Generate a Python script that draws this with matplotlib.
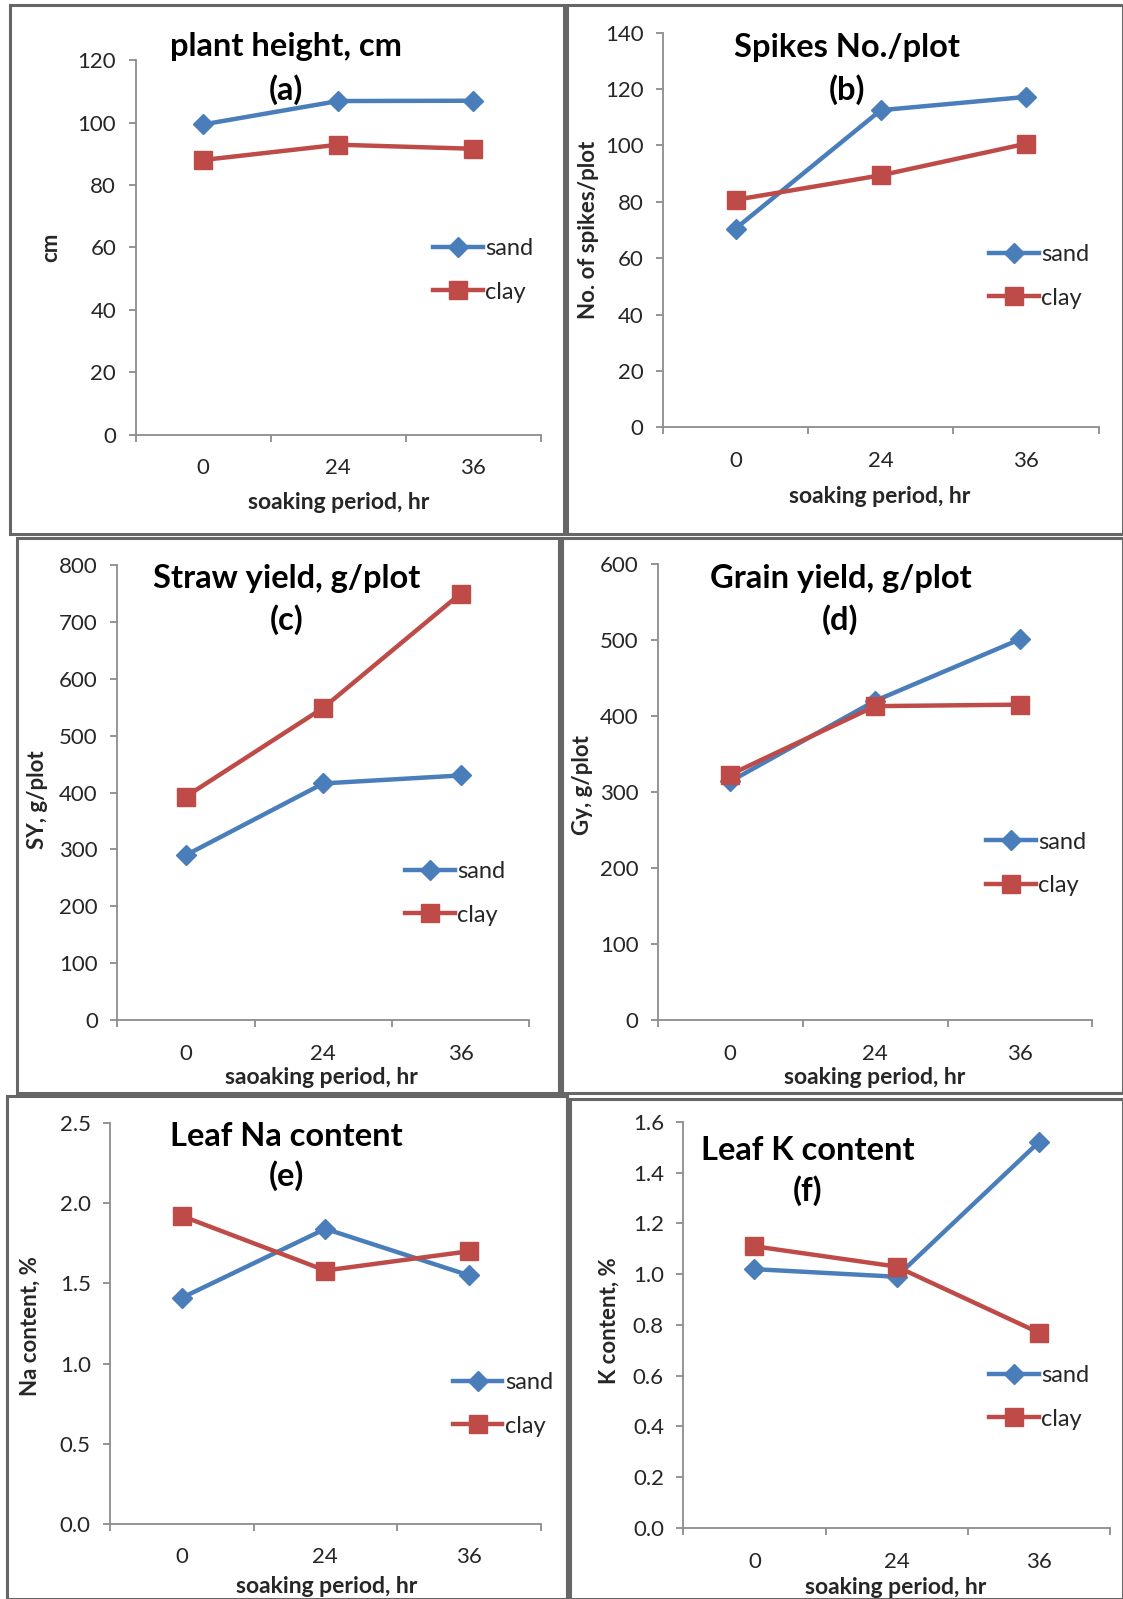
import matplotlib
matplotlib.use("Agg")
import matplotlib.pyplot as plt
from matplotlib.patches import Rectangle

plt.rcParams['font.family'] = ['Lato', 'DejaVu Sans']

W, H = 1123, 1599
S = W / 1101  # layout numbers below were measured on a 1101 px wide view

BLUE = '#4A7EBB'
RED = '#BE4B48'
TXT = '#262626'
AXC = '#8C8C8C'

periods = ['0', '24', '36']

height_sand = [99.4, 106.9, 107.0]
height_clay = [88.0, 92.9, 91.6]
spikes_sand = [70.5, 112.5, 117.2]
spikes_clay = [80.7, 89.4, 100.6]
straw_sand = [290, 416, 430]
straw_clay = [393, 549, 750]
grain_sand = [314, 420, 501]
grain_clay = [323, 413, 415]
na_sand = [1.41, 1.84, 1.55]
na_clay = [1.92, 1.58, 1.70]
k_sand = [1.02, 0.99, 1.52]
k_clay = [1.11, 1.03, 0.77]

titles = ['plant height, cm', 'Spikes No./plot', 'Straw yield, g/plot',
          'Grain yield, g/plot', 'Leaf Na content', 'Leaf K content']
letters = ['(a)', '(b)', '(c)', '(d)', '(e)', '(f)']
ylabels = ['cm', 'No. of spikes/plot', 'SY, g/plot', 'Gy, g/plot',
           'Na content, %', 'K content, %']
xlabels = ['soaking period, hr', 'soaking period, hr', 'saoaking period, hr',
           'soaking period, hr', 'soaking period, hr', 'soaking period, hr']
yticks = [[0, 20, 40, 60, 80, 100, 120],
          [0, 20, 40, 60, 80, 100, 120, 140],
          [0, 100, 200, 300, 400, 500, 600, 700, 800],
          [0, 100, 200, 300, 400, 500, 600],
          [0.0, 0.5, 1.0, 1.5, 2.0, 2.5],
          [0.0, 0.2, 0.4, 0.6, 0.8, 1.0, 1.2, 1.4, 1.6]]
yfmt = ['{:.0f}'] * 4 + ['{:.1f}'] * 2
sand = [height_sand, spikes_sand, straw_sand, grain_sand, na_sand, k_sand]
clay = [height_clay, spikes_clay, straw_clay, grain_clay, na_clay, k_clay]

# layout (view pixels): frame box, axes box (left, top, right, bottom)
frames = [(10, 5, 553, 524), (556, 5, 1101, 524),
          (17, 527, 548, 1072), (551, 527, 1101, 1072),
          (7, 1075, 556, 1568), (559, 1077, 1101, 1568)]
axboxes = [(133, 59, 530, 426), (650, 32, 1077, 419),
           (115, 554, 519, 1000), (645, 553, 1071, 1000),
           (108, 1101, 530, 1494), (670, 1100, 1088, 1498)]
title_pos = [(280, 46, 88), (830, 47, 88), (281, 567, 607),
             (824, 567, 607), (281, 1114, 1153), (792, 1128, 1167)]
ylabel_pos = [(50, 242), (577, 225), (37, 784), (571, 770), (30, 1300), (597, 1295)]
xlabel_pos = [(332, 493), (862, 487), (315, 1056), (858, 1056), (320, 1555), (878, 1556)]
legend_pos = [(425, 265), (970, 271), (397, 876), (967, 847), (444, 1377), (970, 1370)]


def fx(x):
    return x * S / W


def fy(y):
    return 1 - y * S / H


fig = plt.figure(figsize=(W / 100, H / 100), dpi=100)

for i in range(6):
    l, t, r, b = frames[i]
    fig.patches.append(Rectangle((fx(l), fy(b)), fx(r) - fx(l), fy(t) - fy(b),
                                 transform=fig.transFigure, fill=False,
                                 edgecolor='#666666', linewidth=2.2))

    l, t, r, b = axboxes[i]
    ax = fig.add_axes([fx(l), fy(b), fx(r) - fx(l), fy(t) - fy(b)])
    ax.patch.set_alpha(0)
    x = range(len(periods))
    ax.plot(x, sand[i], color=BLUE, lw=3.2, marker='D', ms=10,
            label='sand', zorder=3)
    ax.plot(x, clay[i], color=RED, lw=3.2, marker='s', ms=13.5,
            label='clay', zorder=3)

    ax.set_xlim(-0.5, 2.5)
    ax.set_ylim(yticks[i][0], yticks[i][-1])
    ax.set_yticks(yticks[i])
    ax.set_yticklabels([yfmt[i].format(v) for v in yticks[i]])
    ax.set_xticks(list(x))
    ax.set_xticklabels(periods)
    ax.set_xticks([-0.5, 0.5, 1.5, 2.5], minor=True)
    for s in ['top', 'right']:
        ax.spines[s].set_visible(False)
    for s in ['left', 'bottom']:
        ax.spines[s].set_color(AXC)
        ax.spines[s].set_linewidth(1.3)
    ax.tick_params(axis='y', direction='out', length=5, width=1.3, color=AXC,
                   labelsize=16, labelcolor=TXT, pad=9)
    ax.tick_params(axis='x', which='major', length=0, labelsize=16,
                   labelcolor=TXT, pad=17)
    ax.tick_params(axis='x', which='minor', direction='out', length=5,
                   width=1.3, color=AXC)

    tx, ty1, ty2 = title_pos[i]
    fig.text(fx(tx), fy(ty1), titles[i], ha='center', va='center',
             fontsize=23.5, fontweight='bold', color='black')
    fig.text(fx(tx), fy(ty2), letters[i], ha='center', va='center',
             fontsize=23.5, fontweight='bold', color='black')
    lx, ly = ylabel_pos[i]
    fig.text(fx(lx), fy(ly), ylabels[i], ha='center', va='center',
             rotation=90, fontsize=16, fontweight='bold', color=TXT)
    xx, xy = xlabel_pos[i]
    fig.text(fx(xx), fy(xy), xlabels[i], ha='center', va='center',
             fontsize=16.5, fontweight='bold', color=TXT)

    gx, gy = legend_pos[i]
    ax.legend(loc='center left', bbox_to_anchor=(fx(gx), fy(gy)),
              bbox_transform=fig.transFigure, frameon=False, fontsize=17,
              handlelength=2.1, handletextpad=0.1, labelspacing=0.95,
              borderpad=0, borderaxespad=0, labelcolor=TXT)

fig.savefig('out.png', dpi=100)
